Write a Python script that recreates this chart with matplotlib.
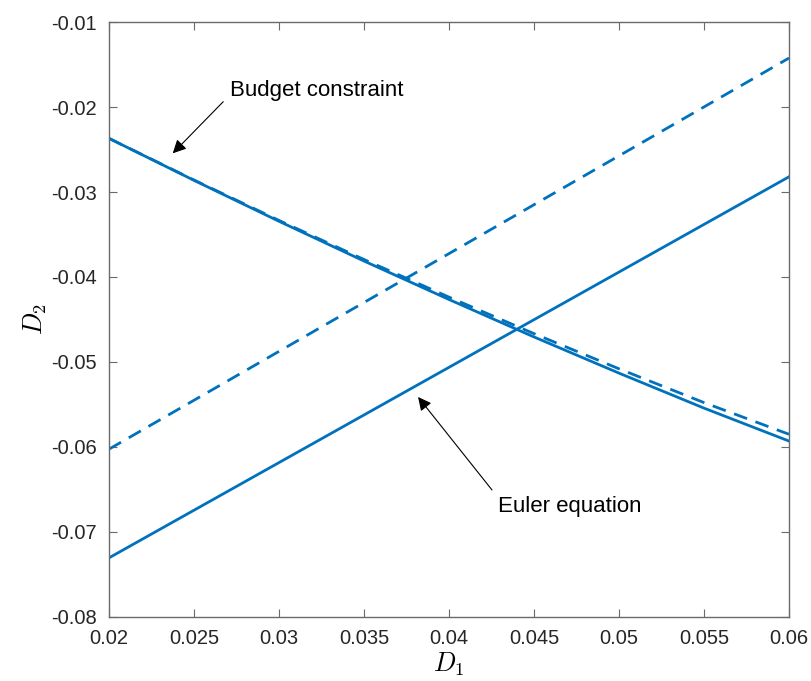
import numpy as np
import matplotlib
matplotlib.use("Agg")
import matplotlib.pyplot as plt

# values
d1_grid = [0.02, 0.025, 0.03, 0.035, 0.04, 0.045, 0.05, 0.055, 0.06]
budget_solid = [-0.02368, -0.02862, -0.03344, -0.03812, -0.04265, -0.04706, -0.05132, -0.05544, -0.05932]
budget_dashed = [-0.02368, -0.02858, -0.03334, -0.03794, -0.04237, -0.04667, -0.05081, -0.05479, -0.05852]

d1_ends = [0.02, 0.06]
euler_solid = [-0.07307, -0.02820]
euler_dashed = [-0.06027, -0.01422]

xticks = [0.02, 0.025, 0.03, 0.035, 0.04, 0.045, 0.05, 0.055, 0.06]
yticks = [-0.08, -0.07, -0.06, -0.05, -0.04, -0.03, -0.02, -0.01]

blue = "#0072BD"
axcol = "#6a6a6a"

plt.rcParams["font.family"] = ["Liberation Sans", "DejaVu Sans"]
plt.rcParams["mathtext.fontset"] = "cm"

fig = plt.figure(figsize=(8.11, 6.81), dpi=100)
ax = fig.add_axes([0.1344, 0.0944, 0.8385, 0.873])

ax.plot(d1_grid, budget_solid, color=blue, lw=2.0)
ax.plot(d1_grid, budget_dashed, color=blue, lw=2.0, dashes=(5.0, 3.2))
ax.plot(d1_ends, euler_solid, color=blue, lw=2.0)
ax.plot(d1_ends, euler_dashed, color=blue, lw=2.0, dashes=(5.0, 3.2))

ax.set_xlim(0.02, 0.06)
ax.set_ylim(-0.08, -0.01)
ax.set_xticks(xticks)
ax.set_yticks(yticks)
ax.set_xticklabels([f"{v:g}" for v in xticks])
ax.set_yticklabels([f"{v:g}" for v in yticks])

ax.tick_params(direction="in", length=6, width=0.8, color=axcol,
               labelsize=14.5, labelcolor="#262626", top=True, right=True, pad=9)
for s in ax.spines.values():
    s.set_color(axcol)
    s.set_linewidth(1.0)

ax.set_xlabel(r"$D_1$", fontsize=19, labelpad=2)
ax.set_ylabel(r"$D_2$", fontsize=19, labelpad=1)

# --- annotations ---
arrow = dict(arrowstyle="-|>", color="k", lw=0.8, mutation_scale=20, shrinkA=0, shrinkB=0)
ax.annotate("", xy=(0.02375, -0.02544), xytext=(0.02672, -0.01936), arrowprops=arrow)
ax.text(0.02712, -0.01799, "Budget constraint", fontsize=16, va="center", ha="left")

ax.annotate("", xy=(0.03818, -0.05413), xytext=(0.04253, -0.06508), arrowprops=arrow)
ax.text(0.04288, -0.06701, "Euler equation", fontsize=16, va="center", ha="left")

fig.savefig("out.png", dpi=100)
